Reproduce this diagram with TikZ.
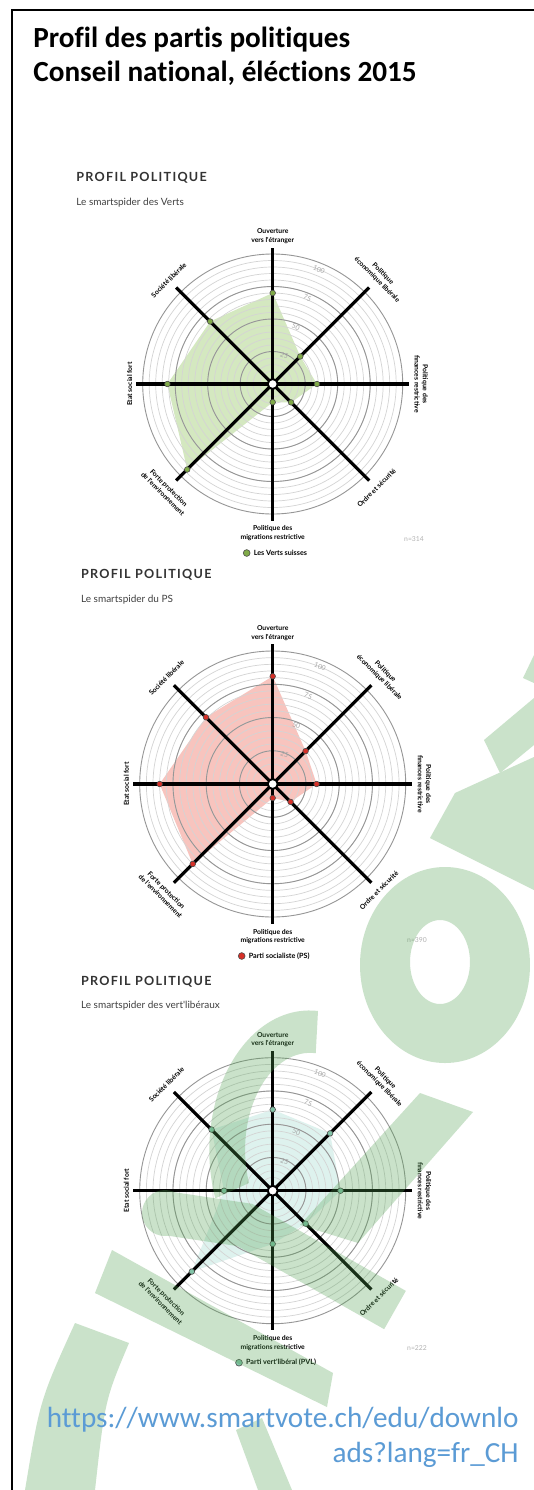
\documentclass[tikz,border=0pt]{standalone}
\usepackage{fontspec}
\setmainfont{Carlito}[Ligatures=NoCommon]
\newfontfamily\spiderfont{Lato}
\usetikzlibrary{positioning}

\definecolor{vertsfill}{RGB}{212,232,192}
\definecolor{vertsdot}{RGB}{128,170,72}
\definecolor{psfill}{RGB}{248,196,190}
\definecolor{psdot}{RGB}{214,48,40}
\definecolor{pvlfill}{RGB}{222,242,238}
\definecolor{pvldot}{RGB}{130,196,168}
\definecolor{wmgreen}{RGB}{80,160,80}
\definecolor{urlblue}{RGB}{91,155,213}

\tikzset{
  thinring/.style={draw={rgb,255:red,212;green,212;blue,212}, line width=0.35pt},
  ring/.style={draw={rgb,255:red,150;green,150;blue,150}, line width=0.45pt},
  spoke/.style={line width=1.6pt},
  hub/.style={circle, draw, fill=white, line width=1pt, minimum size=5pt, inner sep=0pt},
  dot/.style={circle, draw=black!70, line width=0.3pt, minimum size=2.8pt, inner sep=0pt},
  axis/.style={font=\spiderfont\bfseries\fontsize{3.4}{4.2}\selectfont, align=center, inner sep=0.5pt},
  ringlabel/.style={font=\spiderfont\fontsize{3.4}{4}\selectfont, text=black!35, inner sep=0pt},
  heading/.style={font=\spiderfont\bfseries\fontsize{6.3}{7}\selectfont\addfontfeature{LetterSpace=10}, text=black!80, anchor=base west, inner sep=0pt},
  subheading/.style={font=\spiderfont\fontsize{5}{6}\selectfont, text=black!75, anchor=base west, inner sep=0pt},
  legend/.style={font=\spiderfont\bfseries\fontsize{3.6}{4}\selectfont, inner sep=0pt},
  nlabel/.style={font=\spiderfont\fontsize{3.4}{4}\selectfont, text=black!30, inner sep=0pt},
  title/.style={font=\bfseries\fontsize{14.6}{17}\selectfont, anchor=base west, inner sep=0pt},
  url/.style={font=\fontsize{14.6}{17}\selectfont, text=urlblue, anchor=base east, inner sep=0pt},
  mark band/.style={line width=22pt}
}

% spider: name, centre y, radius of 100, fill, dot colour, eight values
\newcommand\smartspider[6]{%
  \begin{scope}[shift={(272.7,-#2)}]
    \foreach \v [count=\i] in {#6}
      \coordinate (#1-\i) at ({135-45*\i}:{\v*#3/100});
    \fill[#4] (#1-1) -- (#1-2) -- (#1-3) -- (#1-4) -- (#1-5) -- (#1-6) -- (#1-7) -- (#1-8) -- cycle;
    \foreach \k in {10,15,...,95}
      \draw[thinring] (0,0) circle ({\k*#3/100});
    \foreach \k in {25,50,75,100}{
      \draw[ring] (0,0) circle ({\k*#3/100});
      \node[ringlabel, rotate=-22] at (68:{\k*#3/100*0.95}) {\k};
    }
    \foreach \a in {0,45,...,315}
      \draw[spoke] (0,0) -- (\a:{1.05*#3});
    \node[hub] (#1-hub) at (0,0) {};
    \foreach \i in {1,...,8}
      \node[dot, fill=#5] at (#1-\i) {};
    \node[axis, anchor=south] (#1-ouv) at (90:{1.07*#3}) {Ouverture\\vers l'étranger};
    \node[axis, anchor=south, rotate=-45] (#1-eco) at (45:{1.1*#3}) {Politique\\économique libérale};
    \node[axis, anchor=south, rotate=-90] (#1-fin) at (0:{1.08*#3}) {Politique des\\finances restrictive};
    \node[axis, anchor=north, rotate=45] (#1-ord) at (-45:{1.1*#3}) {Ordre et sécurité};
    \node[axis, anchor=north] (#1-mig) at (-90:{1.08*#3}) {Politique des\\migrations restrictive};
    \node[axis, anchor=north, rotate=-45] (#1-env) at (-135:{1.1*#3}) {Forte protection\\de l'environnement};
    \node[axis, anchor=south, rotate=90] (#1-soc) at (180:{1.07*#3}) {Etat social fort};
    \node[axis, anchor=south, rotate=45] (#1-lib) at (135:{1.1*#3}) {Société libérale};
  \end{scope}}

\begin{document}
\begin{tikzpicture}[x=0.5pt, y=0.5pt]
  \useasboundingbox (0,0) rectangle (534,-1490);
  \fill[white] (0,0) rectangle (534,-1490);
  \draw[line width=1pt] (12,-1490) -- (12,-10) -- (534,-10);

  \node[title] (title-a) at (33,-47.6) {Profil des partis politiques};
  \node[title] (title-b) at (33,-81.6) {Conseil national, éléctions 2015};

  % les Verts
  \node[heading] (verts-head) at (76,-181) {PROFIL POLITIQUE};
  \node[subheading] (verts-sub) at (76,-205) {Le smartspider des Verts};
  \smartspider{verts}{384}{130}{vertsfill}{vertsdot}{70,30,34,20,14,93,81,68}
  \node[dot, fill=vertsdot, minimum size=3.4pt] (verts-key) at (246.7,-553) {};
  \node[legend, right=1.5pt of verts-key] (verts-leg) {Les Verts suisses};
  \node[nlabel] (verts-n) at (414,-539) {n=314};

  % PS
  \node[heading] (ps-head) at (80.7,-578.3) {PROFIL POLITIQUE};
  \node[subheading] (ps-sub) at (80.7,-602.7) {Le smartspider du PS};
  \smartspider{ps}{784}{133}{psfill}{psdot}{81,35,33,19,10.5,85,85,71}
  \node[dot, fill=psdot, minimum size=3.4pt] (ps-key) at (241.7,-956) {};
  \node[legend, right=1.5pt of ps-key] (ps-leg) {Parti socialiste (PS)};
  \node[nlabel] (ps-n) at (417,-940) {n=390};

  % PVL
  \node[heading] (pvl-head) at (80.7,-985) {PROFIL POLITIQUE};
  \node[subheading] (pvl-sub) at (80.7,-1008) {Le smartspider des vert'libéraux};
  \smartspider{pvl}{1190.7}{133}{pvlfill}{pvldot}{61,61,51,35,40,86,36.6,65}
  \node[dot, fill=pvldot, minimum size=3.4pt] (pvl-key) at (239,-1362.7) {};
  \node[legend, right=1.5pt of pvl-key] (pvl-leg) {Parti vert'libéral (PVL)};
  \node[nlabel] (pvl-n) at (417,-1348) {n=222};

  % watermark
  \begin{scope}[transparency group, opacity=0.3]
    \fill[wmgreen] (534,-655) -- (523,-678) -- (534,-683) -- cycle;
    \fill[wmgreen] (484,-740) -- (534,-698) -- (534,-745) -- (500,-773) -- cycle;
    \fill[wmgreen] (430,-838) -- (455,-793) -- (534,-757) -- (534,-890) -- cycle;
    \fill[wmgreen, even odd rule] (445,-965) ellipse[x radius=85, y radius=98] (440,-962) ellipse[x radius=30, y radius=42];
    \fill[wmgreen] (318,-1011) arc[start angle=85, end angle=200, x radius=100, y radius=140] -- (249,-1183) arc[start angle=200, end angle=85, x radius=65, y radius=97] -- cycle;
    \fill[wmgreen] (165,-1213) circle (23);
    \draw[wmgreen, mark band] (165,-1213) -- (245,-1225) -- (395,-1310);
    \fill[wmgreen] (420,-1093) -- (473,-1112) -- (358,-1243) -- (300,-1225) -- cycle;
    \fill[wmgreen] (112,-1250) -- (333,-1373) -- (327,-1407) -- (95,-1293) -- cycle;
    \fill[wmgreen] (75,-1323) -- (129,-1343) .. controls (105,-1400) .. (95,-1490) -- (25,-1490) .. controls (40,-1400) .. (75,-1323) -- cycle;
    \fill[wmgreen] (236,-1430) -- (262,-1418) -- (292,-1490) -- (258,-1490) -- cycle;
  \end{scope}

  \node[url] (url-a) at (519,-1427) {https://www.smartvote.ch/edu/downlo};
  \node[url] (url-b) at (519,-1462) {ads?lang=fr\_CH};
\end{tikzpicture}
\end{document}
